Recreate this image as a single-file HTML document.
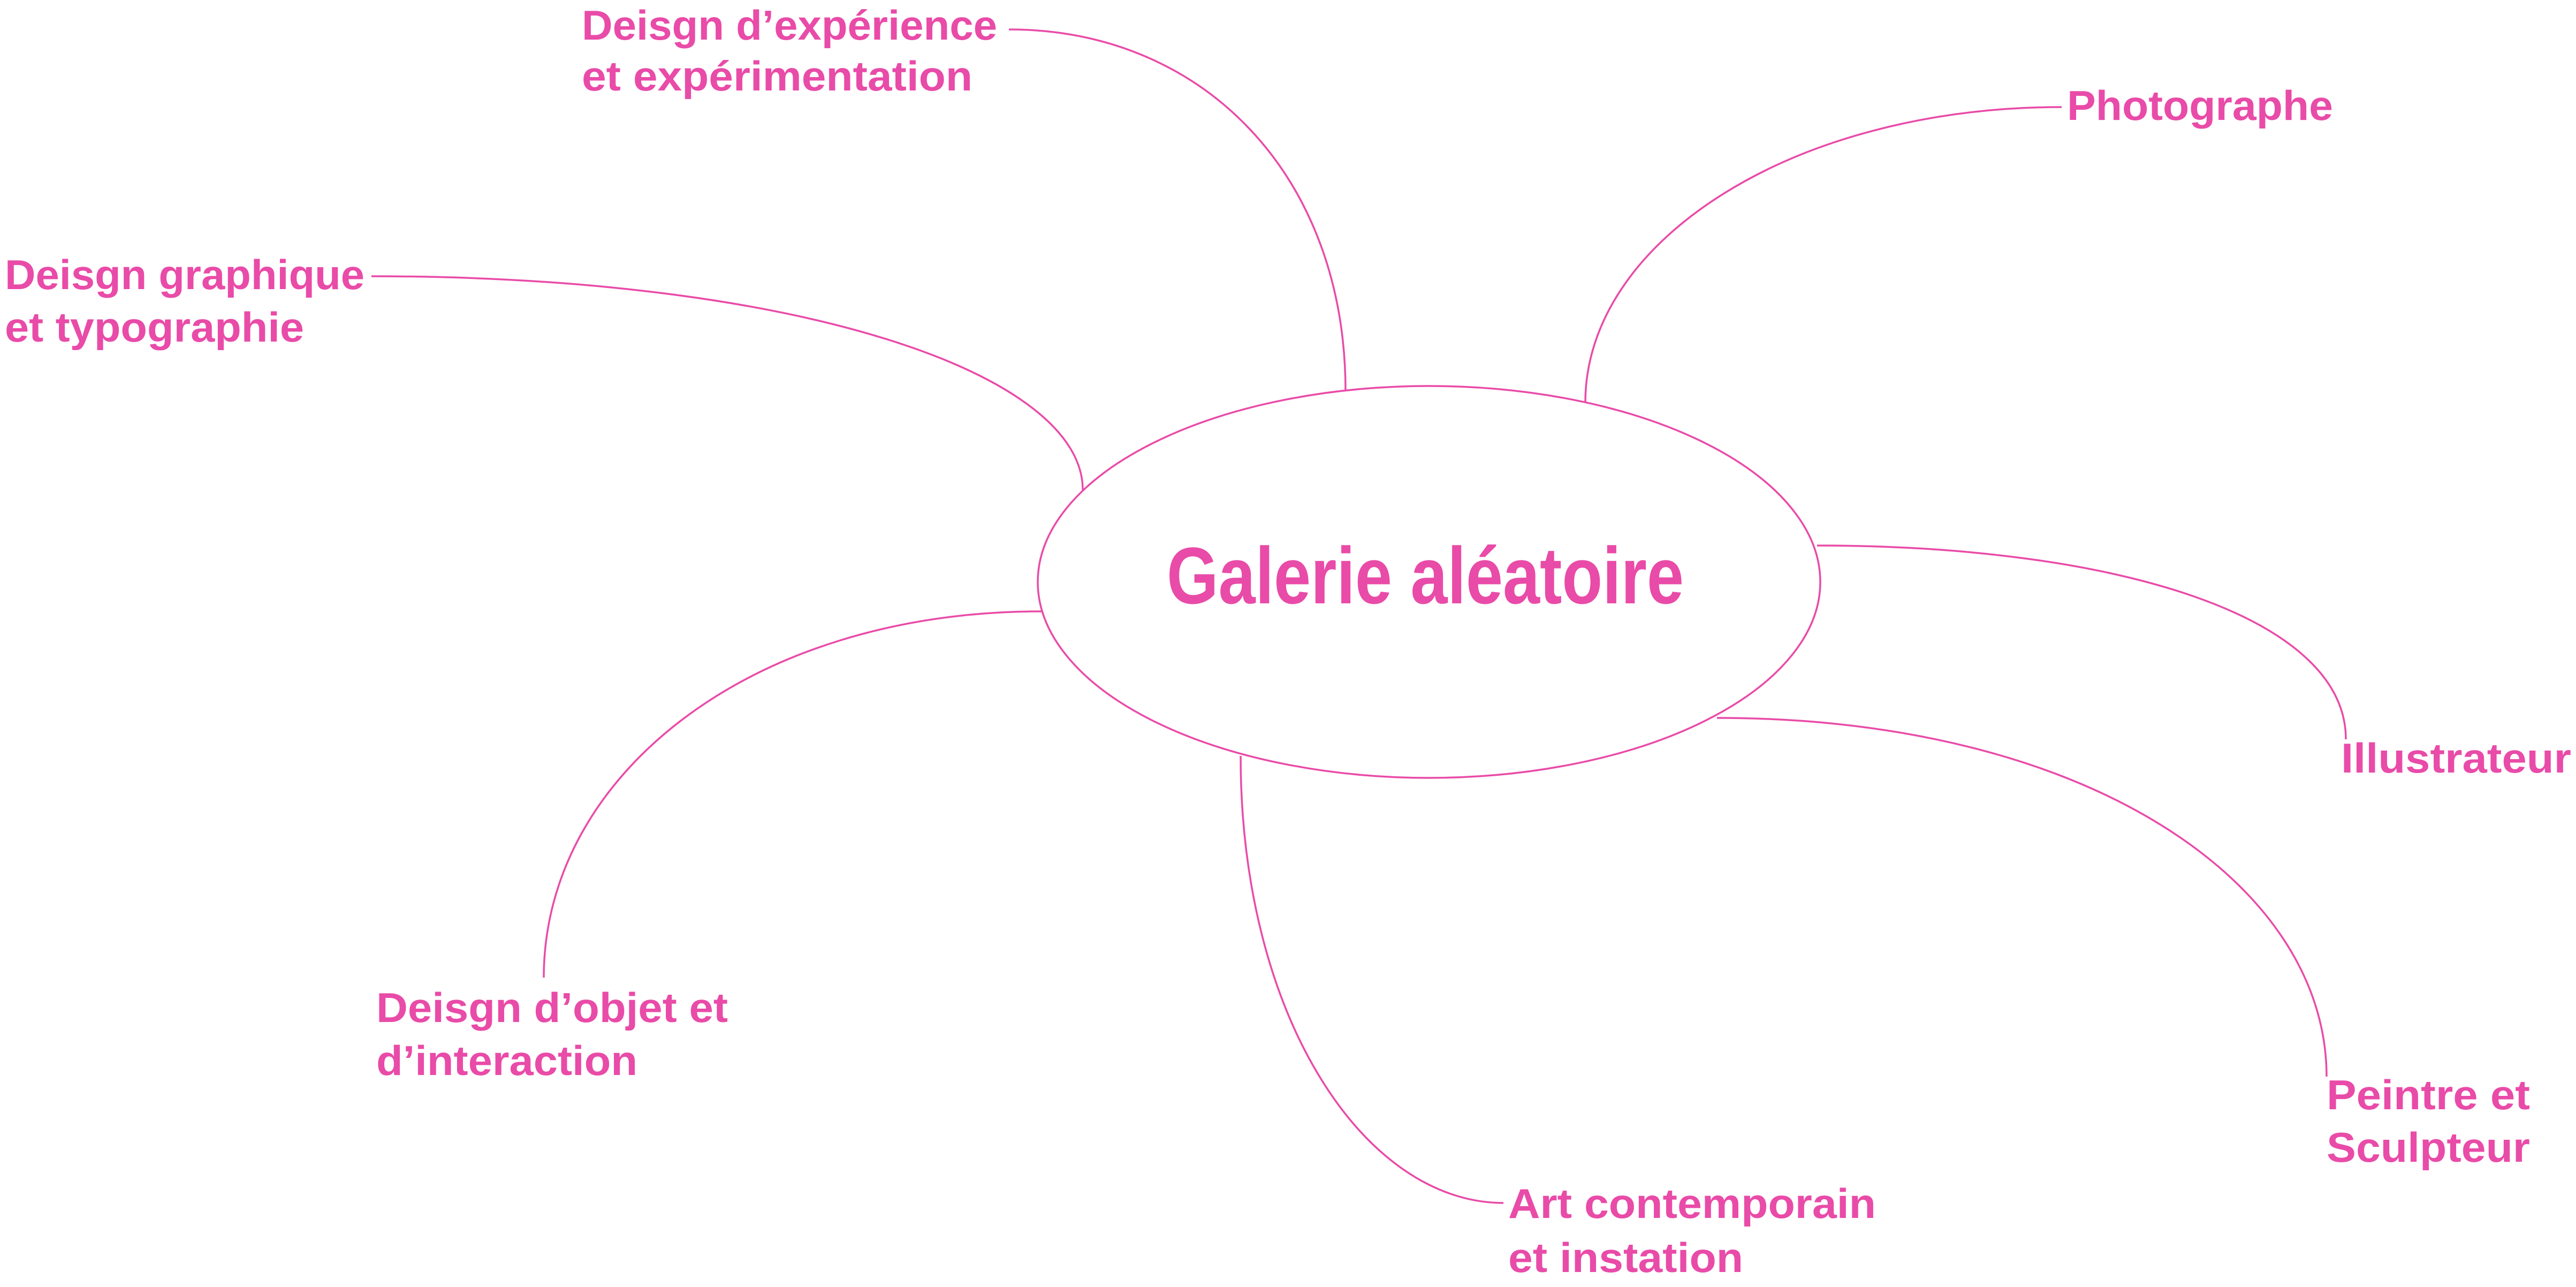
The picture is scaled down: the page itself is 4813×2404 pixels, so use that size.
<!DOCTYPE html>
<html><head><meta charset="utf-8"><style>
html,body{margin:0;padding:0;background:#fff;}
svg{display:block;}
text{font-family:"Liberation Sans",sans-serif;fill:#E94BA8;font-weight:bold;}
</style></head><body>
<svg width="4813" height="2404" viewBox="0 0 4813 2404" xmlns="http://www.w3.org/2000/svg">
<g fill="none" stroke="#E94BA8" stroke-width="3.5">
<ellipse cx="2670" cy="1087" rx="731" ry="366"/>
<path d="M1885,55 C2250,55 2514,330 2514,731"/>
<path d="M3852,200 C3350,200 2962,450 2962,752"/>
<path d="M694,516 C1500,516 2023,700 2023,915"/>
<path d="M3395,1019 C3950,1019 4383,1150 4383,1381"/>
<path d="M3208,1341 C3900,1341 4347,1650 4347,2011"/>
<path d="M2318,1412 C2318,1900 2550,2247 2809,2247"/>
<path d="M1946,1142 C1400,1142 1016,1450 1016,1826"/>
</g>
<text x="2180" y="1127" font-size="150" textLength="966" lengthAdjust="spacingAndGlyphs">Galerie aléatoire</text>
<g font-size="78">
<text x="1087" y="74" textLength="776" lengthAdjust="spacingAndGlyphs">Deisgn d’expérience</text>
<text x="1087" y="169" textLength="730" lengthAdjust="spacingAndGlyphs">et expérimentation</text>
<text x="3862" y="224" textLength="497" lengthAdjust="spacingAndGlyphs">Photographe</text>
<text x="9" y="540" textLength="672" lengthAdjust="spacingAndGlyphs">Deisgn graphique</text>
<text x="9" y="638" textLength="559" lengthAdjust="spacingAndGlyphs">et typographie</text>
<text x="4374" y="1443" textLength="430" lengthAdjust="spacingAndGlyphs">Illustrateur</text>
<text x="4347" y="2072" textLength="380" lengthAdjust="spacingAndGlyphs">Peintre et</text>
<text x="4347" y="2170" textLength="380" lengthAdjust="spacingAndGlyphs">Sculpteur</text>
<text x="2818" y="2275" textLength="687" lengthAdjust="spacingAndGlyphs">Art contemporain</text>
<text x="2818" y="2376" textLength="439" lengthAdjust="spacingAndGlyphs">et instation</text>
<text x="703" y="1909" textLength="657" lengthAdjust="spacingAndGlyphs">Deisgn d’objet et</text>
<text x="703" y="2008" textLength="488" lengthAdjust="spacingAndGlyphs">d’interaction</text>
</g>
</svg>
</body></html>
